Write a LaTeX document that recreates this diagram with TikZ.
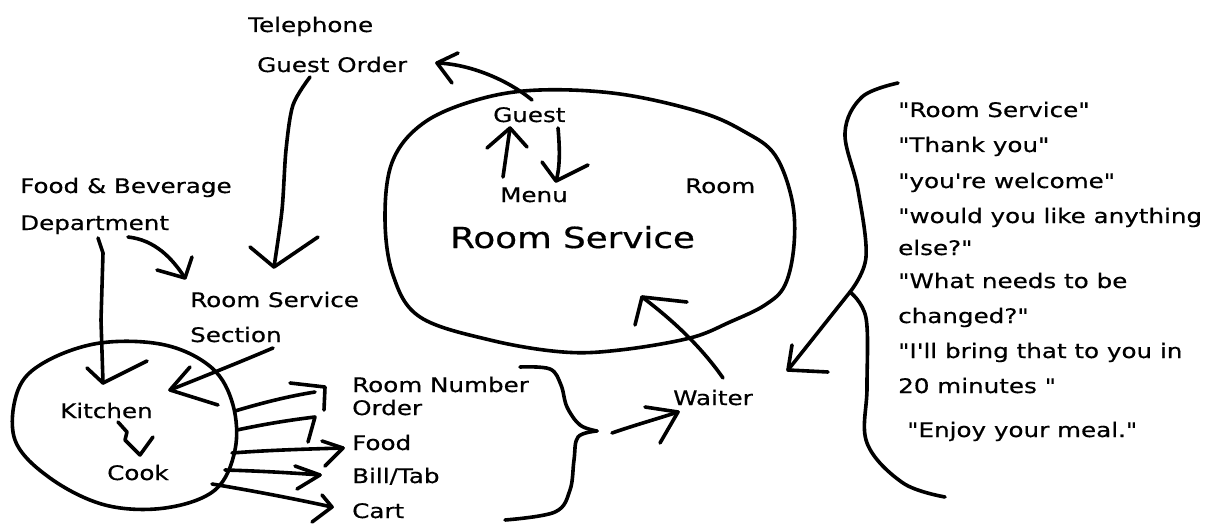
\documentclass[tikz,border=0pt]{standalone}
\usepackage{fontspec}
\newfontfamily\hand[FakeStretch=1.23,FakeBold=0.6]{DejaVu Sans}
\begin{document}
\begin{tikzpicture}[x=1pt,y=-1pt,
  ink/.style={line width=3.6pt,line cap=round,line join=round},
  lbl/.style={font=\hand\fontsize{20}{24}\selectfont,anchor=base west,inner sep=0pt},
  big/.style={font=\hand\fontsize{29}{34}\selectfont,anchor=base west,inner sep=0pt}]
\useasboundingbox (0,0) rectangle (1210,524);
\fill[white] (0,0) rectangle (1210,524);

% ---------- labels ----------
\node[lbl] (tel)    at (248,32)  {Telephone};
\node[lbl] (gorder) at (257,72)  {Guest Order};
\node[lbl] (fb1)    at (20,193)  {Food \& Beverage};
\node[lbl] (fb2)    at (20,230)  {Department};
\node[lbl] (rss1)   at (190,307) {Room Service};
\node[lbl] (rss2)   at (190,342) {Section};
\node[lbl] (kit)    at (60,418)  {Kitchen};
\node[lbl] (cook)   at (107,480) {Cook};
\node[lbl] (rnum)   at (352,392) {Room Number};
\node[lbl] (ord)    at (352,415) {Order};
\node[lbl] (food)   at (352,450) {Food};
\node[lbl] (bill)   at (352,483) {Bill/Tab};
\node[lbl] (cart)   at (352,518) {Cart};
\node[lbl] (waiter) at (673,405) {Waiter};
\node[lbl] (guest)  at (493,122) {Guest};
\node[lbl] (menu)   at (500,202) {Menu};
\node[lbl] (room)   at (685,193) {Room};
\node[big] (rs)     at (450,248) {Room Service};

\node[lbl] (q1)  at (898,117) {"Room Service"};
\node[lbl] (q2)  at (898,152) {"Thank you"};
\node[lbl] (q3)  at (898,188) {"you're welcome"};
\node[lbl] (q4)  at (898,223) {"would you like anything};
\node[lbl] (q5)  at (898,255) {else?"};
\node[lbl] (q6)  at (898,288) {"What needs to be};
\node[lbl] (q7)  at (898,323) {changed?"};
\node[lbl] (q8)  at (898,358) {"I'll bring that to you in};
\node[lbl] (q9)  at (898,393) {20 minutes "};
\node[lbl] (q10) at (907,437) {"Enjoy your meal."};

% ---------- enclosures ----------
\draw[ink] plot[smooth cycle,tension=0.6] coordinates {
  (100,343) (165,345) (212,368) (233,405) (235,450) (215,490)
  (165,508) (105,505) (50,478) (15,440) (18,390) (45,362)};
\draw[ink] plot[smooth cycle,tension=0.6] coordinates {
  (540,90) (620,94) (700,112) (745,132) (775,155) (792,200) (794,245)
  (785,285) (765,305) (730,322) (690,338) (620,350) (563,352)
  (490,340) (420,317) (393,275) (385,217) (393,160) (425,122) (480,99)};

% ---------- arrow tips / ends ----------
\coordinate (tGO)   at (437,63);
\coordinate (tRSS)  at (274,267);
\coordinate (tKit)  at (103,383);
\coordinate (tRSS2) at (185,278);
\coordinate (tKit2) at (170,390);
\coordinate (tCook) at (140,455);
\coordinate (tA1) at (315,392);
\coordinate (tA2) at (315,417);
\coordinate (tA3) at (343,448);
\coordinate (tA4) at (320,475);
\coordinate (tA5) at (332,507);
\coordinate (tWait) at (678,412);
\coordinate (tRoom) at (642,297);
\coordinate (tQ)  at (788,370);
\coordinate (jQ)  at (850,292);
\coordinate (bPt) at (597,431);
\coordinate (tG)  at (510,128);
\coordinate (tM)  at (556,181);

% Guest -> Guest Order
\draw[ink] (532,100) .. controls (508,80) and (470,64) .. (tGO);
\draw[ink] (458,53) -- (tGO) -- (452,83);
% Guest Order -> Room Service Section
\draw[ink] plot[smooth] coordinates {(310,77) (293,105) (286,150) (282,210) (tRSS)};
\draw[ink] (250,247) -- (tRSS) -- (318,237);
% F&B -> Kitchen
\draw[ink] (98,238) -- (103,253) -- (101,320) -- (tKit);
\draw[ink] (87,368) -- (tKit) -- (147,361);
% F&B -> Room Service Section
\draw[ink] (128,237) .. controls (155,240) and (172,258) .. (tRSS2);
\draw[ink] (157,270) -- (tRSS2) -- (192,257);
% Room Service Section -> Kitchen
\draw[ink] (273,348) .. controls (245,360) and (215,372) .. (tKit2);
\draw[ink] (190,367) -- (tKit2) -- (218,405);
% Kitchen -> Cook
\draw[ink] (118,422) -- (127,432) -- (125,440) -- (tCook) -- (153,437);
% Kitchen -> items
\draw[ink] (235,411) .. controls (265,402) and (290,396) .. (tA1);
\draw[ink] (290,383) -- (325,387) -- (324,410);
\draw[ink] (237,430) .. controls (265,424) and (290,420) .. (tA2) -- (308,442);
\draw[ink] (232,453) .. controls (270,450) and (310,449) .. (tA3);
\draw[ink] (322,441) -- (tA3) -- (325,466);
\draw[ink] (225,470) .. controls (260,471) and (295,473) .. (tA4);
\draw[ink] (295,466) -- (tA4) -- (297,489);
\draw[ink] (212,484) .. controls (260,492) and (300,500) .. (tA5);
\draw[ink] (322,495) -- (tA5) -- (312,522);
% brace } and arrow to Waiter
\draw[ink] plot[smooth,tension=0.6] coordinates {(520,367) (550,369) (561,385) (567,407) (580,425) (bPt)};
\draw[ink] plot[smooth,tension=0.6] coordinates {(bPt) (578,437) (574,460) (570,490) (555,512) (505,520)};
\draw[ink] (612,433) .. controls (635,425) and (660,418) .. (tWait);
\draw[ink] (645,407) -- (tWait) -- (660,443);
% Waiter -> Room
\draw[ink] (723,378) .. controls (700,345) and (670,318) .. (tRoom);
\draw[ink] (687,302) -- (tRoom) -- (635,325);
% quotes brace { with arrow
\draw[ink] plot[smooth,tension=0.6] coordinates {(898,83) (862,97) (845,133) (858,190) (866,257) (jQ)};
\draw[ink] plot[smooth,tension=0.6] coordinates {(jQ) (866,318) (867,387) (867,443) (903,483) (945,497)};
\draw[ink] (jQ) -- (tQ);
\draw[ink] (792,345) -- (tQ) -- (828,372);
% Guest <-> Menu
\draw[ink] (503,177) -- (tG);
\draw[ink] (487,148) -- (tG) -- (527,147);
\draw[ink] (558,128) .. controls (560,150) and (560,168) .. (tM);
\draw[ink] (542,162) -- (tM) -- (588,165);
\end{tikzpicture}
\end{document}
